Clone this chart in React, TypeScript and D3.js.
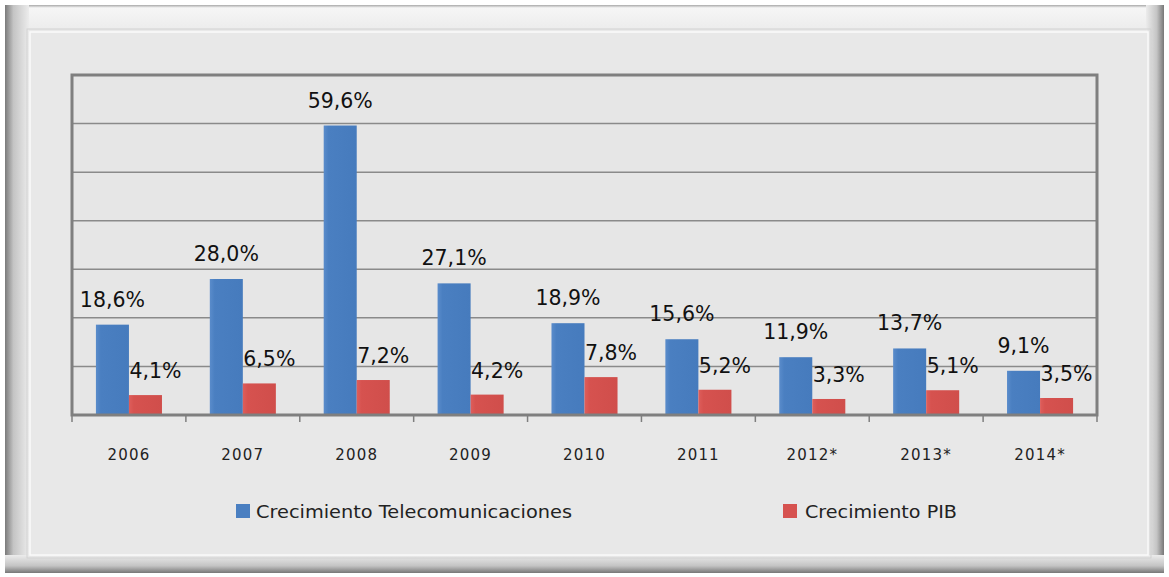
import * as d3 from "d3";

const years = ["2006", "2007", "2008", "2009", "2010", "2011", "2012*", "2013*", "2014*"];
const telecom = [18.6, 28.0, 59.6, 27.1, 18.9, 15.6, 11.9, 13.7, 9.1];
const pib = [4.1, 6.5, 7.2, 4.2, 7.8, 5.2, 3.3, 5.1, 3.5];
const gridTicks = [10, 20, 30, 40, 50, 60];

const W = 1169;
const H = 577;
const plot = { left: 72, right: 1097, top: 75, bottom: 415 };

const fmt = (v: number) => v.toFixed(1).replace(".", ",") + "%";

export default function App() {
  const x = d3
    .scaleBand<string>()
    .domain(years)
    .range([plot.left, plot.right])
    .paddingInner(0.42)
    .paddingOuter(0.21);
  const y = d3.scaleLinear().domain([0, 70]).range([plot.bottom, plot.top]);
  const bw = x.bandwidth() / 2;
  const step = x.step();
  const tickXs = d3.range(years.length + 1).map((i) => plot.left + i * step);

  return (
    <svg
      width={W}
      height={H}
      style={{ position: "absolute", left: 0, top: 0, background: "#fff" }}
    >
      <defs>
        <linearGradient id="leftEdge" x1="0" x2="1" y1="0" y2="0">
          <stop offset="0" stopColor="#7a7a7a" />
          <stop offset="0.35" stopColor="#c4c4c4" />
          <stop offset="1" stopColor="#ececec" />
        </linearGradient>
        <linearGradient id="rightEdge" x1="0" x2="1" y1="0" y2="0">
          <stop offset="0" stopColor="#ececec" />
          <stop offset="0.6" stopColor="#c4c4c4" />
          <stop offset="1" stopColor="#777" />
        </linearGradient>
        <linearGradient id="bottomEdge" x1="0" x2="0" y1="0" y2="1">
          <stop offset="0" stopColor="#ececec" />
          <stop offset="0.6" stopColor="#c4c4c4" />
          <stop offset="1" stopColor="#777" />
        </linearGradient>
        <linearGradient id="topEdge" x1="0" x2="0" y1="0" y2="1">
          <stop offset="0" stopColor="#a8a8a8" />
          <stop offset="0.12" stopColor="#f6f6f6" />
          <stop offset="1" stopColor="#ececec" />
        </linearGradient>
        <linearGradient id="blueGrad" x1="0" x2="1" y1="0" y2="0">
          <stop offset="0" stopColor="#5a8ccb" />
          <stop offset="0.15" stopColor="#4a7fc1" />
          <stop offset="1" stopColor="#467bbd" />
        </linearGradient>
        <linearGradient id="redGrad" x1="0" x2="1" y1="0" y2="0">
          <stop offset="0" stopColor="#de5e5b" />
          <stop offset="0.15" stopColor="#d6524f" />
          <stop offset="1" stopColor="#d04e4b" />
        </linearGradient>
      </defs>

      {/* outer beveled frame */}
      <rect x={5} y={5} width={1159} height={568} fill="#e9e9e9" />
      <rect x={5} y={5} width={1159} height={24} fill="url(#topEdge)" />
      <rect x={5} y={5} width={24} height={568} fill="url(#leftEdge)" />
      <rect x={1146} y={5} width={18} height={568} fill="url(#rightEdge)" />
      <rect x={5} y={555} width={1159} height={18} fill="url(#bottomEdge)" />
      <rect x={30} y={32} width={1118} height={523} fill="#e8e8e8" stroke="#fafafa" strokeWidth={1.5} />
      <rect x={27} y={29} width={1124} height={529} fill="none" stroke="#d2d2d2" strokeWidth={1} />

      {/* plot area */}
      <rect
        x={plot.left}
        y={plot.top}
        width={plot.right - plot.left}
        height={plot.bottom - plot.top}
        fill="#e6e6e6"
      />
      {gridTicks.map((t) => (
        <line
          key={t}
          x1={plot.left}
          x2={plot.right}
          y1={y(t)}
          y2={y(t)}
          stroke="#8a8a8a"
          strokeWidth={1.5}
        />
      ))}

      {years.map((yr, i) => (
        <g key={yr}>
          <rect
            x={x(yr)!}
            y={y(telecom[i])}
            width={bw}
            height={plot.bottom - y(telecom[i])}
            fill="url(#blueGrad)"
          />
          <rect
            x={x(yr)! + bw}
            y={y(pib[i])}
            width={bw}
            height={plot.bottom - y(pib[i])}
            fill="url(#redGrad)"
          />
        </g>
      ))}

      <rect
        x={plot.left}
        y={plot.top}
        width={plot.right - plot.left}
        height={plot.bottom - plot.top}
        fill="none"
        stroke="#7f7f7f"
        strokeWidth={3}
      />
      {tickXs.map((tx, i) => (
        <line key={i} x1={tx} x2={tx} y1={plot.bottom} y2={plot.bottom + 7} stroke="#7f7f7f" strokeWidth={1.5} />
      ))}

      {/* data labels */}
      <g fontFamily="DejaVu Sans, Verdana, sans-serif" fontSize={20.5} fill="#111">
        {years.map((yr, i) => {
          const redCx = Math.min(x(yr)! + bw * 1.5 + 10, plot.right - 26);
          return (
            <g key={yr}>
              <text x={x(yr)! + bw / 2} y={y(telecom[i]) - 18} textAnchor="middle">
                {fmt(telecom[i])}
              </text>
              <text x={redCx} y={y(pib[i]) - 17} textAnchor="middle">
                {fmt(pib[i])}
              </text>
            </g>
          );
        })}
      </g>

      {/* category labels */}
      <g fontFamily="DejaVu Sans, Verdana, sans-serif" fontSize={15} fill="#222" letterSpacing={1.2}>
        {years.map((yr) => (
          <text key={yr} x={x(yr)! + x.bandwidth() / 2} y={460} textAnchor="middle">
            {yr}
          </text>
        ))}
      </g>

      {/* legend */}
      <g fontFamily="'DejaVu Sans', Verdana, sans-serif" fontSize={18} fill="#222">
        <rect x={236} y={504} width={14} height={14} fill="#4a7fc1" />
        <text x={256} y={518} textLength={316} lengthAdjust="spacingAndGlyphs">
          Crecimiento Telecomunicaciones
        </text>
        <rect x={783} y={504} width={14} height={14} fill="#d6524f" />
        <text x={805} y={518} textLength={152} lengthAdjust="spacingAndGlyphs">
          Crecimiento PIB
        </text>
      </g>
    </svg>
  );
}
